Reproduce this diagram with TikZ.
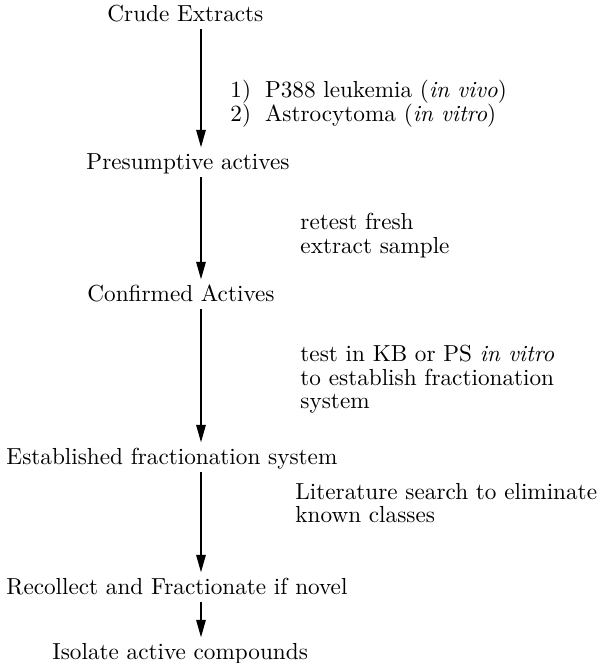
\documentclass[tikz,border=0pt]{standalone}
\usepackage{tikz}
\usetikzlibrary{arrows.meta,positioning}

\begin{document}
\begin{tikzpicture}[x=0.431pt, y=-0.431pt,
  every node/.style={font=\fontsize{10}{10}\selectfont, inner sep=0pt},
  stage/.style={anchor=base west, text height=6.9pt, text depth=0pt},
  note/.style={anchor=north west, align=left},
  flow/.style={-{Triangle[length=7.6pt, width=4pt]}, line width=0.9pt,
    shorten <=3.4pt, shorten >=2.2pt}]
  \useasboundingbox (0,0) rectangle (610,663);
  \coordinate (col) at (201,0);

  % Stages
  \node[stage] (crude) at (107,21) {Crude Extracts};
  \node[stage] (pres) at (86,169) {Presumptive actives};
  \node[stage] (conf) at (87,301) {Confirmed Actives};
  \node[stage] (estab) at (6,464) {Established fractionation system};
  \node[stage] (recoll) at (6,594) {Recollect and Fractionate if novel};
  \node[stage] (isol) at (52,659) {Isolate active compounds};

  % Notes beside the arrows
  \node[note] (screen) at (230,80)
    {1)\hspace{0.6em}P388 leukemia (\textit{in vivo})\\
     2)\hspace{0.6em}Astrocytoma (\textit{in vitro})};
  \node[note] (retest) at (300,213) {retest fresh\\extract sample};
  \node[note] (kbps) at (300,345)
    {test in KB or PS \textit{in vitro}\\to establish fractionation\\system};
  \node[note] (lit) at (295,483) {Literature search to eliminate\\known classes};

  % Arrows
  \draw[flow] (crude.south -| col) -- (pres.north -| col);
  \draw[flow] (pres.south -| col) -- (conf.north -| col);
  \draw[flow] (conf.south -| col) -- (estab.north -| col);
  \draw[flow] (estab.south -| col) -- (recoll.north -| col);
  \draw[flow] (recoll.south -| col) -- (isol.north -| col);
\end{tikzpicture}
\end{document}
